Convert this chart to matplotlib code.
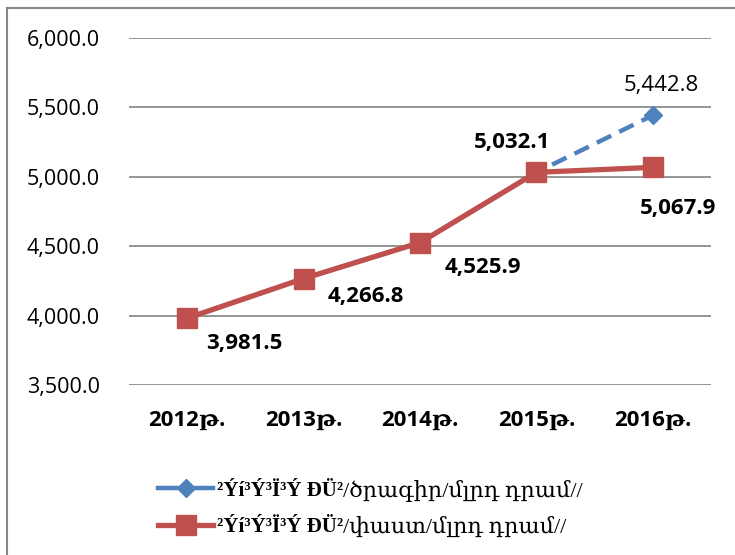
import matplotlib
matplotlib.use("Agg")
import matplotlib.pyplot as plt
from matplotlib.lines import Line2D
from matplotlib.patches import Rectangle

years = ["2012թ.", "2013թ.", "2014թ.", "2015թ.", "2016թ."]
program = [3981.5, 4266.8, 4525.9, 5032.1, 5442.8]
actual = [3981.5, 4266.8, 4525.9, 5032.1, 5067.9]
yticks = [3500, 4000, 4500, 5000, 5500, 6000]
label_prefix = "²Ýí³Ý³Ï³Ý ÐÜ²"
label_program = "/ծրագիր/մլրդ դրամ//"
label_actual = "/փաստ/մլրդ դրամ//"

BLUE = "#4F81BD"
RED = "#C0504D"
SANS = ["Open Sans", "DejaVu Sans"]
SERIF = ["Liberation Serif", "DejaVu Serif"]

W, H = 735, 555
fig = plt.figure(figsize=(W / 100, H / 100), dpi=100)
fig.patches.append(Rectangle((7 / W, -0.1), 1.2, 1 - 8 / H + 0.1, transform=fig.transFigure,
                             fill=False, edgecolor="#878787", linewidth=1.5))

ax = fig.add_axes([129 / W, 1 - 385 / H, 582 / W, 347 / H])
x = list(range(len(years)))

ax.plot(x, program, color=BLUE, lw=3.2, ls=(0, (3.6, 2.0)), marker="D", ms=9,
        markeredgecolor=BLUE, zorder=3, clip_on=False)
ax.plot(x, actual, color=RED, lw=3.8, marker="s", ms=14,
        markeredgecolor=RED, zorder=4, clip_on=False)

ax.set_xlim(-0.5, 4.5)
ax.set_ylim(3500, 6000)
ax.set_yticks(yticks)
ax.set_yticklabels([f"{v:,.1f}" for v in yticks], family=SANS, fontsize=15.5)
ax.set_xticks(x)
ax.set_xticklabels(years, family=["Open Sans", "DejaVu Serif"], fontsize=16,
                   fontweight="bold")
ax.tick_params(axis="y", length=0, pad=21)
ax.tick_params(axis="x", length=0, pad=18)
ax.grid(axis="y", color="#8c8c8c", lw=1.3)
ax.set_axisbelow(True)
for s in ax.spines.values():
    s.set_visible(False)

offsets_actual = [(57, -25), (62, -18), (63, -25), (-24, 30), (25, -41)]
for i, (v, off) in enumerate(zip(actual, offsets_actual)):
    ax.annotate(f"{v:,.1f}", (i, v), xytext=off, textcoords="offset pixels",
                ha="center", va="center", family=SANS, fontsize=16,
                fontweight="bold", color="black", zorder=5)
ax.annotate(f"{program[4]:,.1f}", (4, program[4]), xytext=(8, 30),
            textcoords="offset pixels", ha="center", va="center",
            family=SANS, fontsize=16, color="black", zorder=5)

# legend
h_prog = Line2D([], [], color=BLUE, lw=3.2, marker="D", ms=9)
h_act = Line2D([], [], color=RED, lw=3.8, marker="s", ms=14)
leg = fig.legend([h_prog, h_act], [label_prefix, label_prefix],
                 loc="center left", bbox_to_anchor=(148 / W, 1 - 509 / H),
                 frameon=False, handlelength=2.6, handletextpad=0.2,
                 labelspacing=0.8, borderpad=0,
                 prop={"family": SERIF, "size": 15, "weight": "bold"})

fig.canvas.draw()
renderer = fig.canvas.get_renderer()
for t, suffix in zip(leg.get_texts(), [label_program, label_actual]):
    bb = t.get_window_extent(renderer)
    fig.text(bb.x1 / W, (bb.y0 + bb.y1) / 2 / H, suffix, ha="left", va="center",
             family=SERIF, fontsize=16)

fig.savefig("out.png", dpi=100)
